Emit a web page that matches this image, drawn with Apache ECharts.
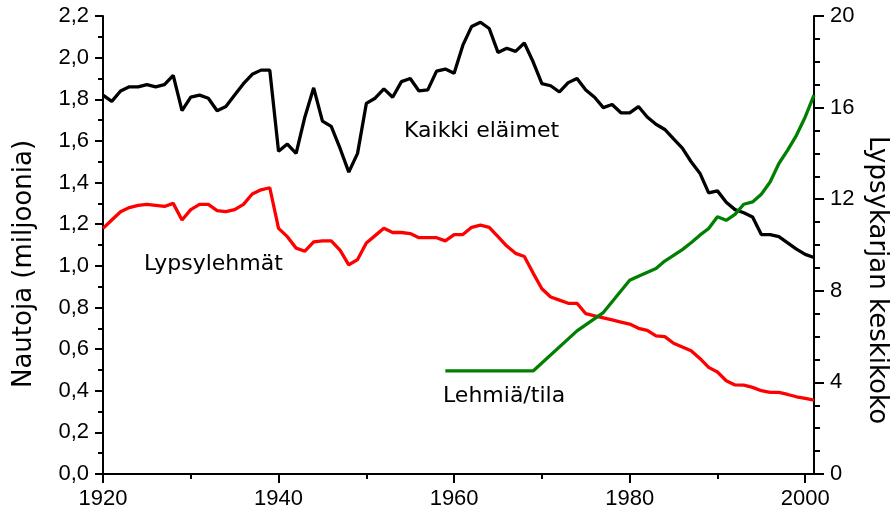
<!DOCTYPE html>
<html>
<head>
<meta charset="utf-8">
<script src="https://cdn.jsdelivr.net/npm/echarts@6/dist/echarts.min.js"></script>
<style>
  html, body { margin: 0; padding: 0; background: #fff; }
  #chart { width: 893px; height: 514px; }
</style>
</head>
<body>
<div id="chart"></div>
<script>
// vuodet 1920-2001
const years = []
for (let y = 1920; y <= 2001; y++) years.push(y)

// Kaikki eläimet (milj.)
const kaikkiElaimet = [
  1.82, 1.79, 1.84, 1.86, 1.86, 1.87, 1.86, 1.87, 1.915, 1.745,
  1.81, 1.82, 1.805, 1.745, 1.765, 1.82, 1.875, 1.92, 1.94, 1.94,
  1.55, 1.585, 1.54, 1.715, 1.855, 1.695, 1.67, 1.565, 1.45, 1.54,
  1.78, 1.805, 1.85, 1.81, 1.885, 1.90, 1.84, 1.845, 1.935, 1.945,
  1.925, 2.06, 2.15, 2.17, 2.14, 2.025, 2.045, 2.03, 2.07, 1.98,
  1.875, 1.865, 1.835, 1.88, 1.90, 1.845, 1.81, 1.76, 1.775, 1.735,
  1.735, 1.765, 1.715, 1.68, 1.655, 1.61, 1.565, 1.50, 1.445, 1.35,
  1.36, 1.305, 1.27, 1.255, 1.235, 1.15, 1.15, 1.14, 1.11, 1.08,
  1.055, 1.04
]

// Lypsylehmät (milj.)
const lypsylehmat = [
  1.18, 1.22, 1.26, 1.28, 1.29, 1.295, 1.29, 1.285, 1.30, 1.22,
  1.27, 1.295, 1.295, 1.265, 1.26, 1.27, 1.295, 1.345, 1.365, 1.375,
  1.18, 1.14, 1.085, 1.07, 1.115, 1.12, 1.12, 1.075, 1.005, 1.03,
  1.11, 1.145, 1.18, 1.16, 1.16, 1.155, 1.135, 1.135, 1.135, 1.12,
  1.15, 1.15, 1.185, 1.195, 1.185, 1.14, 1.095, 1.06, 1.045, 0.965,
  0.89, 0.85, 0.835, 0.82, 0.82, 0.77, 0.76, 0.75, 0.74, 0.73,
  0.72, 0.70, 0.69, 0.663, 0.66, 0.628, 0.61, 0.592, 0.555, 0.512,
  0.49, 0.448, 0.428, 0.427, 0.416, 0.40, 0.392, 0.392, 0.382, 0.371,
  0.363, 0.355
]

// Lehmiä/tila (oikea akseli)
const tilaYears = [
  1959, 1969, 1974, 1977, 1980, 1981, 1983, 1984, 1986, 1987,
  1988, 1989, 1990, 1991, 1992, 1993, 1994, 1995, 1996, 1997,
  1998, 1999, 2000, 2001
]
const lehmiaTila = [
  4.5, 4.5, 6.25, 7.05, 8.46, 8.64, 8.97, 9.3, 9.8, 10.1,
  10.43, 10.72, 11.23, 11.08, 11.34, 11.78, 11.88, 12.22, 12.75, 13.56,
  14.14, 14.79, 15.59, 16.54
]

const xMajorTicks = [1920, 1940, 1960, 1980, 2000]
const xMinorTicks = [1930, 1950, 1970, 1990]

const tickFont = 'Liberation Sans'

const pairs = (xs, ys) => xs.map((x, i) => [x, ys[i]])

const chart = echarts.init(document.getElementById('chart'))

const axisLineStyle = { color: '#000', width: 2 }

chart.setOption({
  animation: false,
  backgroundColor: '#fff',
  grid: { left: 103, right: 79, top: 16, bottom: 40 },
  xAxis: [
    {
      type: 'value',
      min: 1920,
      max: 2001,
      interval: 20,
      splitLine: { show: false },
      axisLine: { lineStyle: axisLineStyle },
      axisTick: { show: true, inside: false, length: 9, customValues: xMajorTicks, lineStyle: { color: '#000', width: 2 } },
      axisLabel: {
        customValues: xMajorTicks,
        margin: 14,
        color: '#000',
        fontFamily: tickFont,
        fontSize: 22,
        formatter: v => String(v)
      }
    },
    {
      // vain väliviivat (10 v)
      type: 'value',
      gridIndex: 0,
      position: 'bottom',
      min: 1920,
      max: 2001,
      interval: 10,
      splitLine: { show: false },
      axisLine: { show: false },
      axisTick: { show: true, length: 5, customValues: xMinorTicks, lineStyle: { color: '#000', width: 2 } },
      axisLabel: { show: false }
    }
  ],
  yAxis: [
    {
      type: 'value',
      min: 0,
      max: 2.2,
      interval: 0.2,
      position: 'left',
      splitLine: { show: false },
      axisLine: { show: true, lineStyle: axisLineStyle },
      axisTick: { show: true, length: 8, lineStyle: { color: '#000', width: 2 } },
      minorTick: { show: true, splitNumber: 2, length: 5, lineStyle: { color: '#000', width: 2 } },
      axisLabel: {
        margin: 14,
        color: '#000',
        fontFamily: tickFont,
        fontSize: 22,
        formatter: v => v.toFixed(1).replace('.', ',')
      }
    },
    {
      type: 'value',
      min: 0,
      max: 20,
      interval: 4,
      position: 'right',
      splitLine: { show: false },
      axisLine: { show: true, lineStyle: axisLineStyle },
      axisTick: { show: true, length: 10, lineStyle: { color: '#000', width: 2 } },
      minorTick: { show: true, splitNumber: 4, length: 6, lineStyle: { color: '#000', width: 2 } },
      axisLabel: {
        margin: 16,
        color: '#000',
        fontFamily: tickFont,
        fontSize: 22
      }
    }
  ],
  series: [
    {
      name: 'Kaikki eläimet',
      type: 'line',
      xAxisIndex: 0,
      yAxisIndex: 0,
      data: pairs(years, kaikkiElaimet),
      showSymbol: false,
      lineStyle: { color: '#000', width: 3.3 },
      z: 2
    },
    {
      name: 'Lypsylehmät',
      type: 'line',
      xAxisIndex: 0,
      yAxisIndex: 0,
      data: pairs(years, lypsylehmat),
      showSymbol: false,
      lineStyle: { color: '#ff0000', width: 3.3 },
      z: 3
    },
    {
      name: 'Lehmiä/tila',
      type: 'line',
      xAxisIndex: 0,
      yAxisIndex: 1,
      data: pairs(tilaYears, lehmiaTila),
      showSymbol: false,
      lineStyle: { color: '#008000', width: 3.3 },
      z: 4
    }
  ],
  graphic: [
    {
      type: 'text',
      x: 24, y: 264,
      rotation: Math.PI / 2,
      style: { text: 'Nautoja (miljoonia)', font: '26px "DejaVu Sans"', fill: '#000', textAlign: 'center', textVerticalAlign: 'middle' }
    },
    {
      type: 'text',
      x: 877, y: 280,
      rotation: -Math.PI / 2,
      style: { text: 'Lypsykarjan keskikoko', font: '26px "DejaVu Sans"', fill: '#000', textAlign: 'center', textVerticalAlign: 'middle' }
    },
    {
      type: 'text',
      x: 404, y: 131,
      style: { text: 'Kaikki eläimet', font: '22px "DejaVu Sans"', fill: '#000', textAlign: 'left', textVerticalAlign: 'middle' }
    },
    {
      type: 'text',
      x: 144, y: 264,
      style: { text: 'Lypsylehmät', font: '22px "DejaVu Sans"', fill: '#000', textAlign: 'left', textVerticalAlign: 'middle' }
    },
    {
      type: 'text',
      x: 443, y: 396,
      style: { text: 'Lehmiä/tila', font: '22px "DejaVu Sans"', fill: '#000', textAlign: 'left', textVerticalAlign: 'middle' }
    }
  ]
})
</script>
</body>
</html>
